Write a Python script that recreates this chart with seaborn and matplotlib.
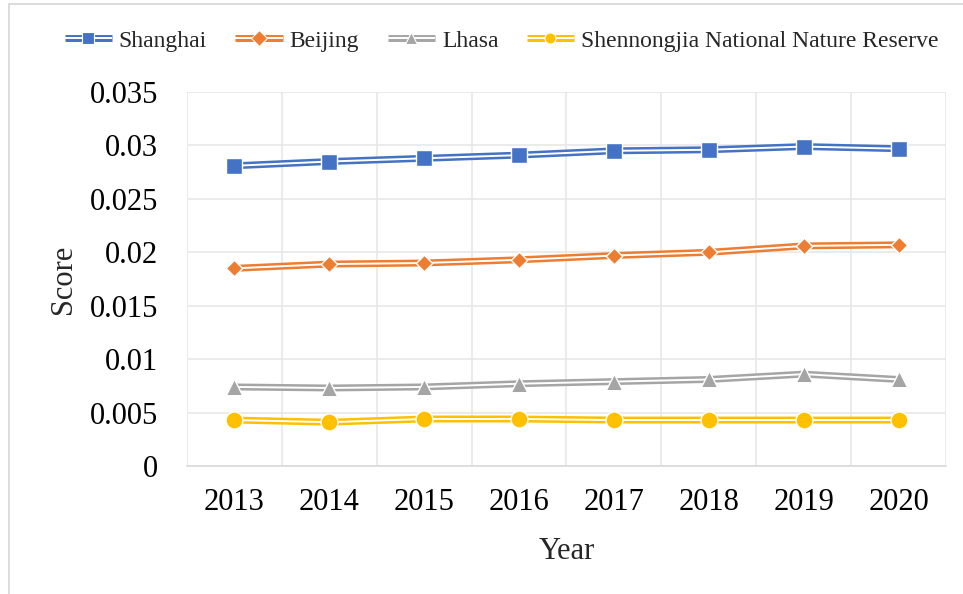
import numpy as np
import pandas as pd
import seaborn as sns
import matplotlib.pyplot as plt
from matplotlib.lines import Line2D
from matplotlib.legend_handler import HandlerTuple
from matplotlib.patches import Rectangle
from matplotlib.ticker import FuncFormatter

# data
years = ['2013', '2014', '2015', '2016', '2017', '2018', '2019', '2020']
shanghai = [0.0281, 0.0285, 0.0288, 0.0291, 0.0295, 0.0296, 0.0299, 0.0297]
beijing = [0.0185, 0.0189, 0.0190, 0.0193, 0.0197, 0.0200, 0.0206, 0.0207]
lhasa = [0.0074, 0.0073, 0.0074, 0.0077, 0.0079, 0.0081, 0.0086, 0.0081]
shennongjia = [0.0043, 0.0041, 0.0044, 0.0044, 0.0043, 0.0043, 0.0043, 0.0043]

regions = ['Shanghai', 'Beijing', 'Lhasa', 'Shennongjia National Nature Reserve']
colors = ['#4472C4', '#ED7D31', '#A5A5A5', '#FFC000']
marker_shapes = ['s', 'D', '^', 'o']
marker_sizes = [125, 70, 140, 150]

df = pd.DataFrame({
    'Year': years * 4,
    'Region': np.repeat(regions, len(years)),
    'Score': shanghai + beijing + lhasa + shennongjia,
})

sns.set_theme(style='white')
plt.rcParams['font.family'] = ['Liberation Serif', 'DejaVu Serif']

fig, ax = plt.subplots(figsize=(9.63, 5.94), dpi=100)
fig.subplots_adjust(left=0.1942, right=0.9823, bottom=0.2155, top=0.845)

pal = dict(zip(regions, colors))
white = {r: 'white' for r in regions}

# "double" line: thick coloured stroke with a thin white one on top
sns.lineplot(data=df, x='Year', y='Score', hue='Region', palette=pal,
             linewidth=5.0, legend=False, sort=False, ax=ax, zorder=3)
sns.lineplot(data=df, x='Year', y='Score', hue='Region', palette=white,
             linewidth=1.4, legend=False, sort=False, ax=ax, zorder=4)
for reg, col, mk, sz in zip(regions, colors, marker_shapes, marker_sizes):
    sub = df[df['Region'] == reg]
    sns.scatterplot(data=sub, x='Year', y='Score', color=col, marker=mk, s=sz,
                    edgecolor='white', linewidth=1.0, legend=False, ax=ax, zorder=5)

ax.set_xlim(-0.5, len(years) - 0.5)
ax.set_ylim(0, 0.035)
ax.set_yticks(np.arange(0, 0.0351, 0.005))
ax.yaxis.set_major_formatter(FuncFormatter(lambda v, p: format(round(v, 4), 'g')))
ax.set_xticks(range(len(years)))
ax.set_xticklabels(years)
ax.set_xticks(np.arange(-0.5, len(years), 1), minor=True)

ax.grid(axis='y', which='major', color='#E6E6E6', linewidth=1.1)
ax.grid(axis='x', which='minor', color='#E6E6E6', linewidth=1.1)
ax.grid(axis='x', which='major', visible=False)
for s in ['top', 'right', 'left']:
    ax.spines[s].set_visible(False)
ax.spines['bottom'].set_color('#D9D9D9')
ax.spines['bottom'].set_linewidth(1.2)

ax.tick_params(axis='both', which='both', length=0, labelsize=22, colors='black')
ax.tick_params(axis='y', pad=21)
ax.tick_params(axis='x', pad=16)
ax.set_xlabel('Year', fontsize=22, labelpad=14)
ax.set_ylabel('Score', fontsize=22, labelpad=8)

handles = []
for col, mk in zip(colors, marker_shapes):
    thick = Line2D([], [], color=col, linewidth=5.0, solid_capstyle='butt')
    thin = Line2D([], [], color='white', linewidth=1.4, solid_capstyle='butt')
    dot = Line2D([], [], color=col, marker=mk, linestyle='none', markersize=8,
                 markeredgecolor='white', markeredgewidth=0.8)
    handles.append((thick, thin, dot))
fig.legend(handles, regions, handler_map={tuple: HandlerTuple(ndivide=1, pad=0)},
           loc='center', bbox_to_anchor=(0.5208, 0.931), ncol=4, frameon=False,
           fontsize=17, handlelength=2.0, handletextpad=0.3, columnspacing=1.2)

# chart-area border (only its left and top edges fall inside the picture)
fig.patches.append(Rectangle((8.5 / 963, -0.1), 1.2, (594 - 4.5) / 594 + 0.1,
                             transform=fig.transFigure, fill=False,
                             edgecolor='#D9D9D9', linewidth=1.3))

fig.savefig('out.png', dpi=100)
